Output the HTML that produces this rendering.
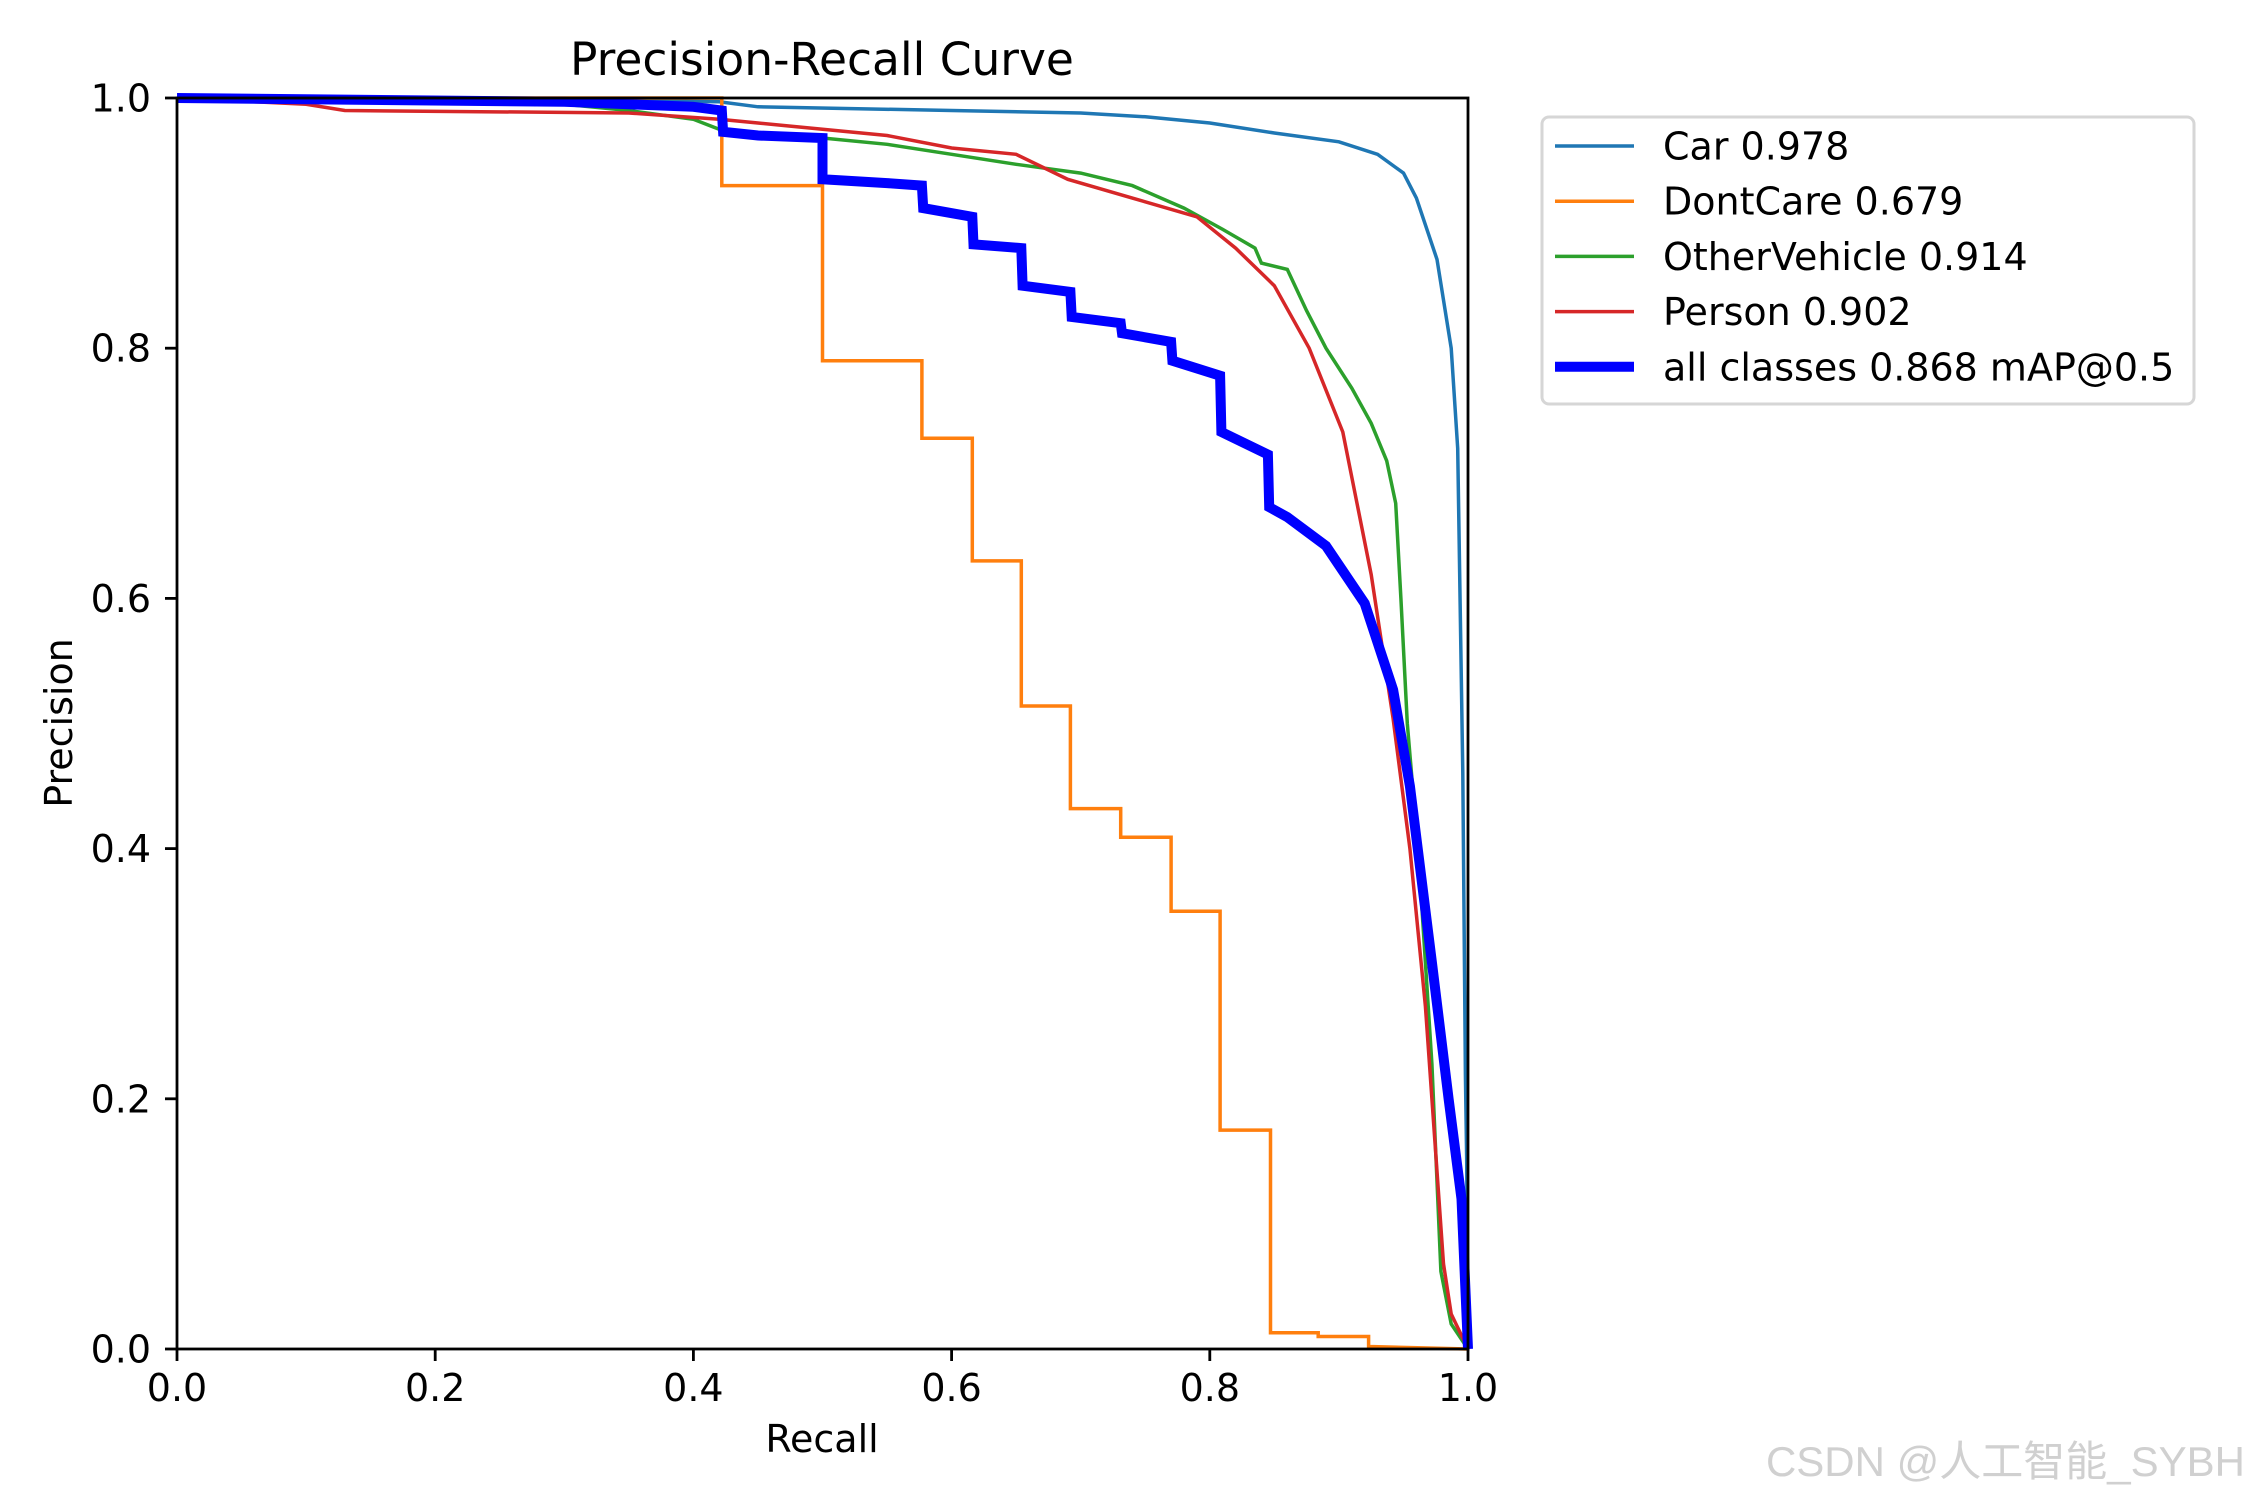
<!DOCTYPE html>
<html><head><meta charset="utf-8">
<style>
html,body{margin:0;padding:0;background:#fff;}
svg{display:block;font-family:"DejaVu Sans","Liberation Sans","Noto Sans CJK SC",sans-serif;}
</style></head>
<body>
<svg id="chart" width="2250" height="1500" viewBox="0 0 2250 1500" xmlns="http://www.w3.org/2000/svg">
<rect width="2250" height="1500" fill="#fff"/>
<g id="plot"></g>
<g id="axes"></g>
<text x="822" y="75" font-size="45.5" text-anchor="middle">Precision-Recall Curve</text>
<text x="822" y="1452" font-size="38" text-anchor="middle">Recall</text>
<text x="0" y="0" font-size="38" text-anchor="middle" transform="translate(72,723) rotate(-90)">Precision</text>
<g id="legend"></g>
<text x="2245" y="1476" font-size="42" text-anchor="end" fill="#d0d0d0" font-family="Liberation Sans, Noto Sans CJK SC, sans-serif">CSDN @人工智能_SYBH</text>
</svg>
<script>
const xTicks=[0,0.2,0.4,0.6,0.8,1.0];
const yTicks=[0,0.2,0.4,0.6,0.8,1.0];
const seriesNames=["Car 0.978","DontCare 0.679","OtherVehicle 0.914","Person 0.902","all classes 0.868 mAP@0.5"];
const seriesColors=["#1f77b4","#ff7f0e","#2ca02c","#d62728","#0000ff"];
const carRecall=[0,0.3,0.42,0.45,0.6,0.7,0.75,0.8,0.85,0.9,0.93,0.95,0.96,0.976,0.987,0.992,0.996,0.998,0.999,1.0];
const carPrec=[1,0.999,0.997,0.993,0.99,0.988,0.985,0.98,0.972,0.965,0.955,0.94,0.92,0.871,0.80,0.72,0.46,0.22,0.15,0];
const dcRecall=[0,0.422,0.422,0.5,0.5,0.577,0.577,0.616,0.616,0.654,0.654,0.692,0.692,0.731,0.731,0.77,0.77,0.808,0.808,0.847,0.847,0.884,0.884,0.923,0.923,1.0];
const dcPrec=[1,1,0.930,0.930,0.790,0.790,0.728,0.728,0.630,0.630,0.514,0.514,0.432,0.432,0.409,0.409,0.35,0.35,0.175,0.175,0.013,0.013,0.01,0.01,0.002,0];
const ovRecall=[0,0.3,0.35,0.4,0.42,0.45,0.5,0.55,0.6,0.65,0.7,0.74,0.78,0.81,0.835,0.84,0.86,0.875,0.89,0.91,0.925,0.937,0.944,0.948,0.953,0.962,0.972,0.979,0.987,1.0];
const ovPrec=[1,0.995,0.99,0.983,0.975,0.972,0.968,0.963,0.955,0.947,0.94,0.93,0.912,0.895,0.88,0.868,0.863,0.83,0.80,0.768,0.74,0.71,0.676,0.6,0.5,0.39,0.228,0.062,0.02,0];
const personRecall=[0,0.1,0.13,0.35,0.42,0.45,0.5,0.55,0.6,0.65,0.69,0.74,0.79,0.82,0.85,0.877,0.903,0.914,0.925,0.942,0.955,0.967,0.981,0.987,1.0];
const personPrec=[1,0.995,0.99,0.988,0.983,0.98,0.975,0.97,0.96,0.955,0.935,0.92,0.905,0.88,0.85,0.80,0.733,0.676,0.619,0.504,0.4,0.274,0.068,0.028,0];
const allRecall=[0,0.3,0.35,0.4,0.422,0.423,0.45,0.5,0.5,0.55,0.577,0.578,0.616,0.617,0.654,0.655,0.692,0.693,0.731,0.732,0.77,0.771,0.808,0.809,0.845,0.846,0.86,0.89,0.92,0.942,0.955,0.972,0.985,0.995,1.0];
const allPrec=[1,0.997,0.995,0.993,0.99,0.973,0.97,0.968,0.935,0.932,0.93,0.912,0.905,0.883,0.88,0.85,0.845,0.825,0.82,0.812,0.805,0.79,0.778,0.733,0.715,0.673,0.665,0.642,0.596,0.527,0.45,0.309,0.2,0.12,0];

const L=177,R=1468,T=98,B=1349;
const NS="http://www.w3.org/2000/svg";
function xs(v){return L+v*(R-L);}
function ys(v){return B-v*(B-T);}
function mk(tag,attrs,parent){const e=document.createElementNS(NS,tag);for(const k in attrs)e.setAttribute(k,attrs[k]);parent.appendChild(e);return e;}
const plot=document.getElementById('plot');
const axes=document.getElementById('axes');
const legend=document.getElementById('legend');
const series=[[carRecall,carPrec],[dcRecall,dcPrec],[ovRecall,ovPrec],[personRecall,personPrec],[allRecall,allPrec]];
const widths=[3.5,3.5,3.5,3.5,10];
const keys=["car","dontcare","othervehicle","person","all-classes"];
series.forEach((s,i)=>{
  const d=s[0].map((r,j)=>(j?'L':'M')+xs(r).toFixed(1)+','+ys(s[1][j]).toFixed(1)).join(' ');
  const p=mk('path',{d:d,fill:'none',stroke:seriesColors[i],'stroke-width':widths[i],'stroke-linejoin':'miter'},plot);
  
  
});
const frame=mk('rect',{x:L,y:T,width:R-L,height:B-T,fill:'none',stroke:'#000','stroke-width':2.8},axes);


xTicks.forEach(v=>{
  const t=mk('line',{x1:xs(v),x2:xs(v),y1:B,y2:B+12,stroke:'#000','stroke-width':2.8},axes);
  
  
  const lb=mk('text',{x:xs(v),y:B+52,'font-size':38,'text-anchor':'middle'},axes);
  lb.textContent=v.toFixed(1);
  
  
});
yTicks.forEach(v=>{
  const t=mk('line',{x1:L-12,x2:L,y1:ys(v),y2:ys(v),stroke:'#000','stroke-width':2.8},axes);
  
  
  const lb=mk('text',{x:L-26,y:ys(v)+13.5,'font-size':38,'text-anchor':'end'},axes);
  lb.textContent=v.toFixed(1);
  
  
});
const box=mk('rect',{x:1542,y:117,width:652,height:287,rx:7,fill:'#fff',stroke:'#d6d6d6','stroke-width':3},legend);


seriesNames.forEach((n,i)=>{
  const y=146+i*55.2;
  const ln=mk('line',{x1:1555,x2:1634,y1:y,y2:y,stroke:seriesColors[i],'stroke-width':widths[i]},legend);
  
  
  const tx=mk('text',{x:1663,y:y+13.5,'font-size':38},legend);
  tx.textContent=n;
  
  
});
</script>
</body></html>
